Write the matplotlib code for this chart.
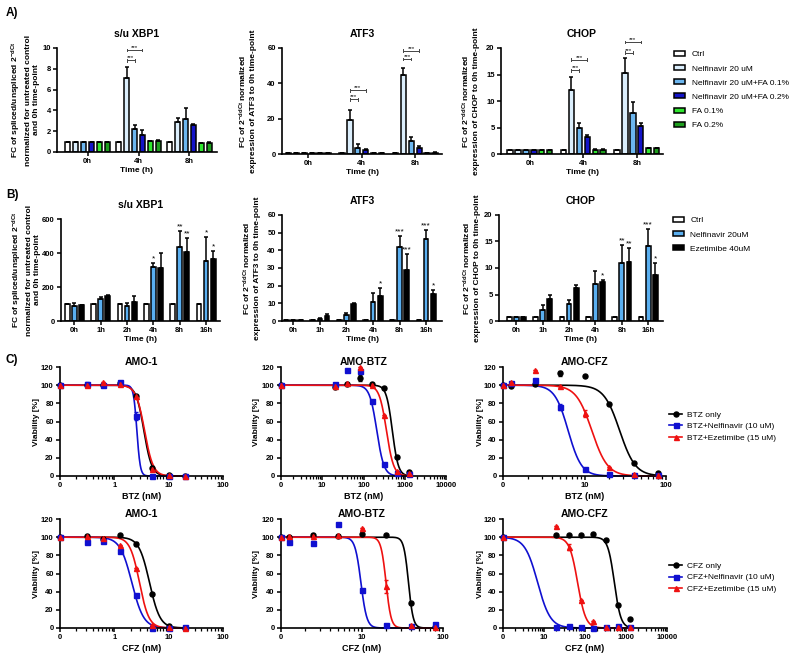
import numpy as np
import matplotlib
matplotlib.use("Agg")
import matplotlib.pyplot as plt
from matplotlib.patches import Patch
from matplotlib.lines import Line2D
from matplotlib.ticker import FixedLocator, FixedFormatter, LogLocator, NullFormatter
import matplotlib.transforms as mtransforms

plt.rcParams["font.family"] = ["Liberation Sans", "DejaVu Sans"]
plt.rcParams["font.weight"] = "bold"
plt.rcParams["mathtext.fontset"] = "custom"
plt.rcParams["mathtext.rm"] = "Liberation Sans:bold"
plt.rcParams["mathtext.default"] = "rm"
plt.rcParams["axes.linewidth"] = 1.2

# ---------------- panel A: bar data (rows = treatment, cols = time) ----------------
a_times = ["0h", "4h", "8h"]
a_groups = ["Ctrl", "Nelfinavir 20 uM", "Nelfinavir 20 uM+FA 0.1%",
            "Nelfinavir 20 uM+FA 0.2%", "FA 0.1%", "FA 0.2%"]
a_colors = ["#ffffff", "#dbeefc", "#6cb6ef", "#1414c8", "#2fe62f", "#1e9e1e"]

a_xbp1 = [[1.0, 1.0, 1.0], [1.0, 7.1, 2.9], [1.0, 2.2, 3.2],
          [1.0, 1.6, 2.6], [1.0, 1.05, 0.85], [1.0, 1.1, 0.9]]
a_xbp1_err = [[0, 0, 0], [0, 1.1, 0.35], [0, 0.4, 1.0],
              [0, 0.5, 0.1], [0, 0.05, 0.05], [0, 0.05, 0.05]]
a_xbp1_sig = [(1, 1, 2, 8.8), (1, 1, 3, 9.8)]

a_atf3 = [[0.3, 0.3, 0.3], [0.3, 19.0, 44.5], [0.3, 3.5, 7.5],
          [0.3, 2.0, 3.5], [0.3, 0.5, 0.4], [0.3, 0.5, 0.8]]
a_atf3_err = [[0, 0, 0], [0, 6.0, 4.0], [0, 2.0, 2.0],
              [0, 0.8, 0.8], [0, 0.2, 0.1], [0, 0.2, 0.3]]
a_atf3_sig = [(1, 1, 2, 31), (1, 1, 3, 36), (2, 1, 2, 53.8), (2, 1, 3, 58.5)]

a_chop = [[0.8, 0.8, 0.8], [0.8, 12.0, 15.3], [0.8, 5.0, 7.7],
          [0.8, 3.3, 5.2], [0.8, 0.8, 1.1], [0.8, 0.8, 1.1]]
a_chop_err = [[0, 0, 0], [0, 2.6, 2.8], [0, 0.8, 2.1],
              [0, 0.3, 0.6], [0, 0.1, 0.1], [0, 0.1, 0.1]]
a_chop_sig = [(1, 1, 2, 15.8), (1, 1, 3, 17.8), (2, 1, 2, 19.1), (2, 1, 3, 21.1)]

# ---------------- panel B ----------------
b_times = ["0h", "1h", "2h", "4h", "8h", "16h"]
b_groups = ["Ctrl", "Nelfinavir 20uM", "Ezetimibe 40uM"]
b_colors = ["#ffffff", "#5aaff0", "#000000"]

b_xbp1 = [[100, 100, 100, 100, 100, 100],
          [87, 128, 87, 320, 434, 353],
          [93, 148, 112, 310, 405, 365]]
b_xbp1_err = [[0] * 6,
              [16, 14, 21, 23, 93, 140],
              [4, 3, 36, 89, 82, 44]]
b_xbp1_stars = [(3, 1, "*"), (4, 1, "**"), (4, 2, "**"), (5, 1, "*"), (5, 2, "*")]

b_atf3 = [[0.5] * 6,
          [0.5, 1.3, 3.2, 10.8, 42.0, 46.2],
          [0.5, 2.8, 9.8, 14.2, 28.8, 15.5]]
b_atf3_err = [[0] * 6,
              [0, 0.6, 1.5, 5.3, 6.1, 5.3],
              [0, 1.4, 0.3, 4.7, 8.9, 1.9]]
b_atf3_stars = [(3, 2, "*"), (4, 1, "***"), (4, 2, "***"), (5, 1, "***"), (5, 2, "*")]

b_chop = [[0.8] * 6,
          [0.8, 2.0, 3.2, 6.9, 10.9, 14.2],
          [0.8, 4.1, 6.3, 7.4, 11.2, 8.6]]
b_chop_err = [[0] * 6,
              [0, 1.0, 0.7, 2.6, 3.4, 3.1],
              [0, 0.9, 0.45, 0.3, 2.6, 2.4]]
b_chop_stars = [(3, 2, "*"), (4, 1, "**"), (4, 2, "**"), (5, 1, "***"), (5, 2, "*")]

# ---------------- panel C: dose response (0 = untreated) ----------------
c_colors = ["black", "#1010d0", "#ee1111"]
c_markers = ["o", "s", "^"]

amo1_btz_dose = [0, 0.3125, 0.625, 1.25, 2.5, 5, 10, 20]
amo1_btz = [[100, 100, 100, 102, 88, 9, 1, 0],
            [100, 101, 100, 103, 66, 0.5, 0.3, 0.2],
            [100, 100, 104, 101, 88, 8, 1, 0]]
amo1_btz_err = [[0, 0, 0, 0, 0, 2, 0, 0], [0, 2, 0, 0, 4, 0, 0, 0], [0, 0, 0, 0, 0, 0, 0, 0]]
amo1_btz_ic50 = [3.5, 2.6, 3.6]
amo1_btz_hill = [6, 14, 5.5]

amobtz_btz_dose = [0, 20, 40, 80, 160, 320, 640, 1280]
amobtz_btz = [[100, 98, 101, 108, 101, 97, 21, 4],
              [100, 101, 117, 116, 83, 13, 3, 2],
              [100, 99, 102, 120, 100, 67, 5, 3]]
amobtz_btz_err = [[0, 0, 0, 3, 0, 0, 0, 0], [0] * 8, [0] * 8]
amobtz_btz_ic50 = [500, 210, 360]
amobtz_btz_hill = [6, 5, 5]

amocfz_btz_dose = [0, 1.25, 2.5, 5, 10, 20, 40, 80]
amocfz_btz = [[100, 99, 101, 113, 110, 79, 14, 3.6],
              [100, 102, 106, 76, 7.7, 2, 1, 1],
              [100, 104, 117, 99, 69, 10, 2, 1]]
amocfz_btz_err = [[0, 0, 0, 3, 0, 0, 0, 0], [0, 0, 0, 3, 0, 0, 0, 0], [0, 0, 0, 0, 4, 0, 0, 0]]
amocfz_btz_ic50 = [27, 6.3, 12.3]
amocfz_btz_hill = [4.5, 5.3, 4.5]

amo1_cfz_dose = [0, 0.3125, 0.625, 1.25, 2.5, 5, 10, 20]
amo1_cfz = [[100, 101, 98, 102, 93, 37, 2, 0],
            [100, 95, 96, 85, 36, 0, 0, 1],
            [100, 101, 99, 91, 66, 3, 1, 0]]
amo1_cfz_err = [[0, 0, 2, 0, 2, 0, 0, 0], [0, 0, 2, 0, 0, 0, 0, 0], [0] * 8]
amo1_cfz_ic50 = [4.44, 2.1, 2.9]
amo1_cfz_hill = [4.5, 4, 5]

amobtz_cfz_dose = [0, 1.25, 2.5, 5, 10, 20, 40, 80]
amobtz_cfz = [[100, 100, 102, 101, 104, 102, 28, 1],
              [100, 95, 94, 114, 42, 3, 2, 4],
              [100, 101, 101, 102, 110, 46, 3.7, 1]]
amobtz_cfz_err = [[0] * 8, [0, 0, 2, 0, 0, 0, 0, 0], [0, 0, 0, 0, 0, 7, 0, 0]]
amobtz_cfz_ic50 = [37.5, 9.7, 19.8]
amobtz_cfz_hill = [15, 12, 14]

amocfz_cfz_dose = [0, 20, 40, 80, 160, 320, 640, 1280]
amocfz_cfz = [[100, 102, 102, 102, 104, 97, 25, 10],
              [100, 1, 2, 1, 0.5, 1, 2, 1],
              [100, 112, 89, 31, 8, 1, 1, 1]]
amocfz_cfz_err = [[0] * 8, [0] * 8, [0, 0, 3, 0, 0, 0, 0, 0]]
amocfz_cfz_ic50 = [520, 7, 66]
amocfz_cfz_hill = [5.5, 2.8, 4.4]

W, H = 800, 660
fig = plt.figure(figsize=(W / 100, H / 100), dpi=100)


def add_ax(left, right, top, bottom):
    return fig.add_axes([left / W, 1 - bottom / H, (right - left) / W, (bottom - top) / H])


def style(ax, ylabel, ylabel_x, title, title_pad):
    ax.spines["top"].set_visible(False)
    ax.spines["right"].set_visible(False)
    ax.tick_params(direction="out", length=3, width=1.1, labelsize=5.5, pad=1.5)
    ax.tick_params(which="minor", direction="out", length=1.8, width=0.9)
    ax.set_title(title, fontsize=7.5, fontweight="bold", pad=title_pad)
    ax.set_ylabel(ylabel, fontsize=6, fontweight="bold", linespacing=1.25)
    ax.yaxis.label.set_verticalalignment("center")
    trans = mtransforms.blended_transform_factory(fig.transFigure, ax.transAxes)
    ax.yaxis.set_label_coords(ylabel_x / W, 0.5, transform=trans)


def bar_panel(box, title, ylabel, ylabel_x, times, means, errs, colors,
              xlim, step, width, ylim, yticks):
    ax = add_ax(*box)
    x = np.arange(len(times))
    offs = (np.arange(len(means)) - (len(means) - 1) / 2) * step
    for i in range(len(means)):
        ax.bar(x + offs[i], means[i], width, color=colors[i], edgecolor="black",
               linewidth=1.1, zorder=2)
        ax.errorbar(x + offs[i], means[i], yerr=[np.zeros(len(times)), errs[i]],
                    fmt="none", ecolor="black", elinewidth=1.1, capsize=1.6,
                    capthick=1.1, zorder=3)
    ax.set_xlim(*xlim)
    ax.set_ylim(*ylim)
    ax.set_yticks(yticks)
    ax.set_xticks(x)
    ax.set_xticklabels(times)
    ax.set_xlabel("Time (h)", fontsize=6, fontweight="bold", labelpad=1)
    style(ax, ylabel, ylabel_x, title, 8)
    return ax, x, offs


def brackets(ax, x, offs, sig):
    for t, a, b, y in sig:
        x1, x2 = x[t] + offs[a], x[t] + offs[b]
        d = (ax.get_ylim()[1]) * 0.012
        ax.plot([x1, x2], [y, y], color="#444444", lw=0.7, clip_on=False)
        ax.plot([x1, x1], [y - d, y + d], color="#444444", lw=0.7, clip_on=False)
        ax.plot([x2, x2], [y - d, y + d], color="#444444", lw=0.7, clip_on=False)
        ax.text((x1 + x2) / 2, y, "***", fontsize=4.5, ha="center", va="bottom",
                fontweight="normal")


def stars(ax, x, offs, means, errs, marks):
    for t, s, lab in marks:
        top = means[s][t] + errs[s][t]
        ax.annotate(lab, (x[t] + offs[s], top), xytext=(0, 0.5),
                    textcoords="offset points", ha="center", va="bottom",
                    fontsize=6, fontweight="normal")


# ----- row A -----
ax, x, offs = bar_panel((57, 217, 48, 152), "s/u XBP1",
                        "FC of spliced/unspliced 2$^{-dCt}$\nnormalized for untreated control\nand 0h time-point",
                        25, a_times, a_xbp1, a_xbp1_err, a_colors,
                        (-0.6, 2.54), 0.155, 0.1, (0, 10), [0, 2, 4, 6, 8, 10])
brackets(ax, x, offs, a_xbp1_sig)
ax, x, offs = bar_panel((282, 442, 48, 154), "ATF3",
                        "FC of 2$^{-ddCt}$ normalized\nexpression of ATF3 to 0h time-point",
                        247, a_times, a_atf3, a_atf3_err, a_colors,
                        (-0.49, 2.5), 0.148, 0.1, (0, 60), [0, 20, 40, 60])
brackets(ax, x, offs, a_atf3_sig)
ax, x, offs = bar_panel((501, 663, 48, 154), "CHOP",
                        "FC of 2$^{-ddCt}$ normalized\nexpression of CHOP to 0h time-point",
                        470, a_times, a_chop, a_chop_err, a_colors,
                        (-0.54, 2.49), 0.148, 0.1, (0, 20), [0, 5, 10, 15, 20])
brackets(ax, x, offs, a_chop_sig)

fig.legend([Patch(facecolor=c, edgecolor="black", linewidth=1.1) for c in a_colors], a_groups,
           loc="upper left", bbox_to_anchor=(674 / W, 1 - 51 / H), frameon=False,
           prop={"size": 6, "weight": "normal"}, handlelength=1.3, handleheight=0.55,
           handletextpad=0.8, labelspacing=0.8, borderpad=0, borderaxespad=0)

# ----- row B -----
ax, x, offs = bar_panel((61, 220, 219, 321), "s/u XBP1",
                        "FC of spliced/unspliced 2$^{-dCt}$\nnormalized for untreated control\nand 0h time-point",
                        26, b_times, b_xbp1, b_xbp1_err, b_colors,
                        (-0.51, 5.53), 0.27, 0.18, (0, 600), [0, 200, 400, 600])
stars(ax, x, offs, b_xbp1, b_xbp1_err, b_xbp1_stars)
ax, x, offs = bar_panel((282, 442, 215, 321), "ATF3",
                        "FC of 2$^{-ddCt}$ normalized\nexpression of ATF3 to 0h time-point",
                        251, b_times, b_atf3, b_atf3_err, b_colors,
                        (-0.43, 5.6), 0.27, 0.18, (0, 60), [0, 10, 20, 30, 40, 50, 60])
stars(ax, x, offs, b_atf3, b_atf3_err, b_atf3_stars)
ax, x, offs = bar_panel((499, 663, 215, 321), "CHOP",
                        "FC of 2$^{-ddCt}$ normalized\nexpression of CHOP to 0h time-point",
                        471, b_times, b_chop, b_chop_err, b_colors,
                        (-0.655, 5.56), 0.27, 0.18, (0, 20), [0, 5, 10, 15, 20])
stars(ax, x, offs, b_chop, b_chop_err, b_chop_stars)

fig.legend([Patch(facecolor=c, edgecolor="black", linewidth=1.1) for c in b_colors], b_groups,
           loc="upper left", bbox_to_anchor=(673 / W, 1 - 217 / H), frameon=False,
           prop={"size": 6, "weight": "normal"}, handlelength=1.3, handleheight=0.55,
           handletextpad=0.8, labelspacing=0.8, borderpad=0, borderaxespad=0)


# ----- row C -----
def dose_panel(box, title, drug, ylabel_x, zero_pos, xmax, doses, vals, errs, ic50, hill):
    ax = add_ax(*box)
    ax.set_xscale("log")
    xs = np.array([zero_pos if d == 0 else d for d in doses], dtype=float)
    curve_x = np.logspace(np.log10(zero_pos), np.log10(max(doses)), 400)
    for i in range(3):
        ax.plot(curve_x, 100 / (1 + (curve_x / ic50[i]) ** hill[i]), color=c_colors[i],
                lw=1.2, clip_on=False, zorder=2)
        ax.errorbar(xs, vals[i], yerr=errs[i], fmt=c_markers[i], color=c_colors[i],
                    ms=3.6, elinewidth=1.0, capsize=1.6, capthick=1.0,
                    clip_on=False, zorder=3)
    decades = [zero_pos * 10 ** k for k in range(1, int(round(np.log10(xmax / zero_pos))) + 1)]
    ax.set_xlim(zero_pos, xmax)
    ax.xaxis.set_major_locator(FixedLocator([zero_pos] + decades))
    ax.xaxis.set_major_formatter(FixedFormatter(["0"] + ["%g" % d for d in decades]))
    ax.xaxis.set_minor_locator(LogLocator(base=10, subs=np.arange(2, 10)))
    ax.xaxis.set_minor_formatter(NullFormatter())
    ax.set_ylim(0, 120)
    ax.set_yticks([0, 20, 40, 60, 80, 100, 120])
    ax.set_xlabel(drug + " (nM)", fontsize=6.5, fontweight="bold", labelpad=2)
    style(ax, "Viability [%]", ylabel_x, title, 0.5)
    return ax


dose_panel((60, 223, 367, 476), "AMO-1", "BTZ", 37, 0.1, 100,
           amo1_btz_dose, amo1_btz, amo1_btz_err, amo1_btz_ic50, amo1_btz_hill)
dose_panel((281, 446, 367, 476), "AMO-BTZ", "BTZ", 256, 1, 10000,
           amobtz_btz_dose, amobtz_btz, amobtz_btz_err, amobtz_btz_ic50, amobtz_btz_hill)
dose_panel((503, 666, 367, 476), "AMO-CFZ", "BTZ", 480, 1, 100,
           amocfz_btz_dose, amocfz_btz, amocfz_btz_err, amocfz_btz_ic50, amocfz_btz_hill)
dose_panel((60, 223, 519, 628), "AMO-1", "CFZ", 37, 0.1, 100,
           amo1_cfz_dose, amo1_cfz, amo1_cfz_err, amo1_cfz_ic50, amo1_cfz_hill)
dose_panel((281, 443, 519, 628), "AMO-BTZ", "CFZ", 256, 1, 100,
           amobtz_cfz_dose, amobtz_cfz, amobtz_cfz_err, amobtz_cfz_ic50, amobtz_cfz_hill)
dose_panel((503, 667, 519, 628), "AMO-CFZ", "CFZ", 481, 1, 10000,
           amocfz_cfz_dose, amocfz_cfz, amocfz_cfz_err, amocfz_cfz_ic50, amocfz_cfz_hill)

for drug, ytop in [("BTZ", 411), ("CFZ", 562)]:
    labels = [drug + " only", drug + "+Nelfinavir (10 uM)", drug + "+Ezetimibe (15 uM)"]
    handles = [Line2D([], [], color=c_colors[i], marker=c_markers[i], ms=3.6, lw=1.2)
               for i in range(3)]
    fig.legend(handles, labels, loc="upper left", bbox_to_anchor=(669 / W, 1 - ytop / H),
               frameon=False, prop={"size": 6, "weight": "normal"}, handlelength=1.6,
               handletextpad=0.6, labelspacing=0.45, borderpad=0, borderaxespad=0)

for lab, yy in [("A)", 13), ("B)", 195), ("C)", 360)]:
    fig.text(6 / W, 1 - yy / H, lab, fontsize=8.5, fontweight="bold", va="center", ha="left")

fig.savefig("out.png", dpi=100)
